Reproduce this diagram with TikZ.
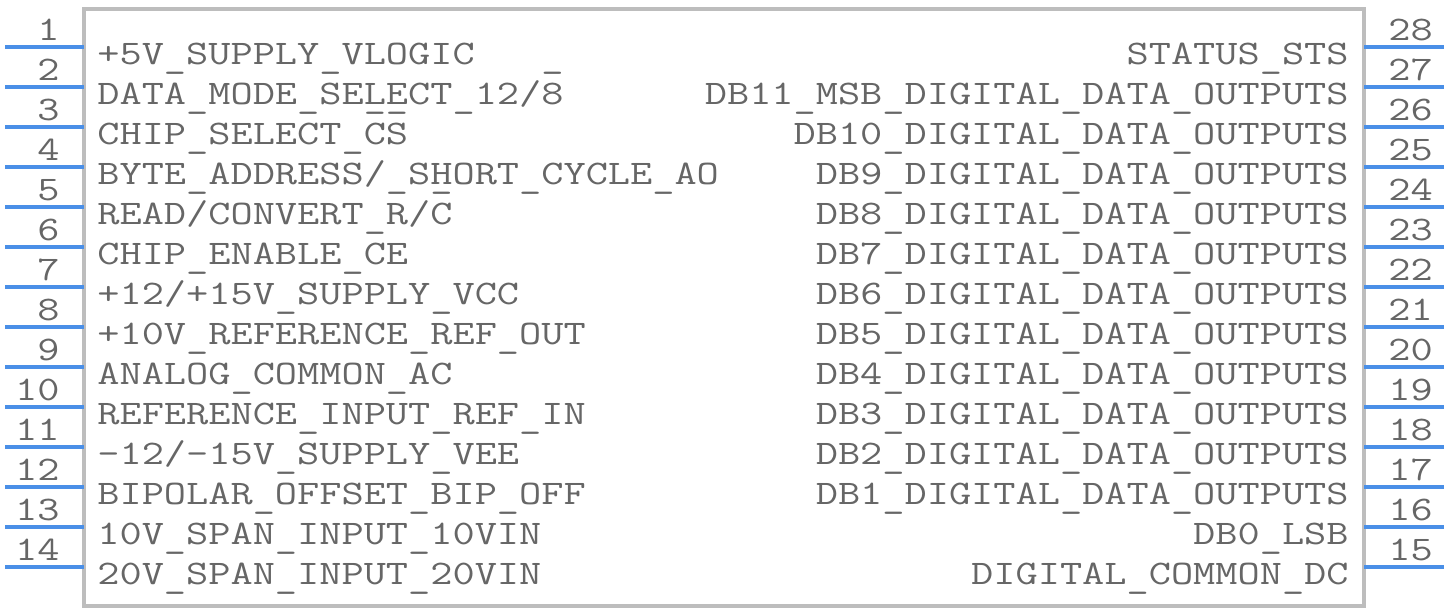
\documentclass[tikz,border=0pt]{standalone}
\usepackage{fontspec}
\setmonofont{Latin Modern Mono}[FakeStretch=1.253]
\usetikzlibrary{positioning}
\definecolor{pinblue}{HTML}{4A8FE7}
\definecolor{bodygrey}{HTML}{BDBDBD}
\definecolor{txtgrey}{HTML}{666666}
\tikzstyle{lbl} = [inner sep=0pt, text=txtgrey, font=\ttfamily\fontsize{17.2}{20}\selectfont]
\tikzstyle{pin} = [draw=pinblue, line width=2pt]
\tikzstyle{body} = [draw=bodygrey, line width=1.6pt]
\renewcommand{\_}{\raisebox{-0.1em}{\textunderscore}}
\newcommand{\ulc}[1]{\rlap{\_}#1}

\begin{document}
\begin{tikzpicture}[x=0.5pt,y=-0.5pt]
		\useasboundingbox (0,0) rectangle (1448,612);
		\coordinate (tl) at (84,9);
		\coordinate (br) at (1364,606);
		\draw[body] (tl) rectangle (br);
		% pins
		\foreach \i in {1,...,14}{
			\pgfmathtruncatemacro\p{29-\i}
			\coordinate (a\i) at (5,7+40*\i);
			\coordinate (b\i) at (84,7+40*\i);
			\draw[pin] (a\i) -- (b\i);
			\node[lbl,anchor=base east](n\i) at (60,40*\i) {\i};
			\coordinate (c\p) at (1364,7+40*\i);
			\coordinate (d\p) at (1444,7+40*\i);
			\draw[pin] (c\p) -- (d\p);
			\node[lbl,anchor=base west](n\p) at (1388,40*\i) {\p};
		}
		% left side
		\node[lbl,anchor=base west](l1) at (97,64) {+5V\_SUPPLY\_VLOGIC~~~\_};
		\node[lbl,anchor=base west](l2) at (97,104) {DATA\_MODE\_SE\ulc{L}\ulc{E}CT\_12/8};
		\node[lbl,anchor=base west](l3) at (97,144) {CHIP\_SELECT\_CS};
		\node[lbl,anchor=base west](l4) at (97,184) {BYTE\_ADDRESS/\_S\ulc{H}ORT\_CYCLE\_AO};
		\node[lbl,anchor=base west](l5) at (97,224) {READ/CONVERT\_R/C};
		\node[lbl,anchor=base west](l6) at (97,264) {CHIP\_ENABLE\_CE};
		\node[lbl,anchor=base west](l7) at (97,304) {+12/+15V\_SUPPLY\_VCC};
		\node[lbl,anchor=base west](l8) at (97,344) {+10V\_REFERENCE\_REF\_OUT};
		\node[lbl,anchor=base west](l9) at (97,384) {ANALOG\_COMMON\_AC};
		\node[lbl,anchor=base west](l10) at (97,424) {REFERENCE\_INPUT\_REF\_IN};
		\node[lbl,anchor=base west](l11) at (97,464) {-12/-15V\_SUPPLY\_VEE};
		\node[lbl,anchor=base west](l12) at (97,504) {BIPOLAR\_OFFSET\_BIP\_OFF};
		\node[lbl,anchor=base west](l13) at (97,544) {10V\_SPAN\_INPUT\_10VIN};
		\node[lbl,anchor=base west](l14) at (97,584) {20V\_SPAN\_INPUT\_20VIN};
		% right side
		\node[lbl,anchor=base east](r28) at (1349,64) {STATUS\_STS};
		\node[lbl,anchor=base east](r27) at (1349,104) {DB11\_MSB\_DIGITAL\_DATA\_OUTPUTS};
		\node[lbl,anchor=base east](r26) at (1349,144) {DB10\_DIGITAL\_DATA\_OUTPUTS};
		\node[lbl,anchor=base east](r25) at (1349,184) {DB9\_DIGITAL\_DATA\_OUTPUTS};
		\node[lbl,anchor=base east](r24) at (1349,224) {DB8\_DIGITAL\_DATA\_OUTPUTS};
		\node[lbl,anchor=base east](r23) at (1349,264) {DB7\_DIGITAL\_DATA\_OUTPUTS};
		\node[lbl,anchor=base east](r22) at (1349,304) {DB6\_DIGITAL\_DATA\_OUTPUTS};
		\node[lbl,anchor=base east](r21) at (1349,344) {DB5\_DIGITAL\_DATA\_OUTPUTS};
		\node[lbl,anchor=base east](r20) at (1349,384) {DB4\_DIGITAL\_DATA\_OUTPUTS};
		\node[lbl,anchor=base east](r19) at (1349,424) {DB3\_DIGITAL\_DATA\_OUTPUTS};
		\node[lbl,anchor=base east](r18) at (1349,464) {DB2\_DIGITAL\_DATA\_OUTPUTS};
		\node[lbl,anchor=base east](r17) at (1349,504) {DB1\_DIGITAL\_DATA\_OUTPUTS};
		\node[lbl,anchor=base east](r16) at (1349,544) {DB0\_LSB};
		\node[lbl,anchor=base east](r15) at (1349,584) {DIGITAL\_COMMON\_DC};
		\end{tikzpicture}
\end{document}
